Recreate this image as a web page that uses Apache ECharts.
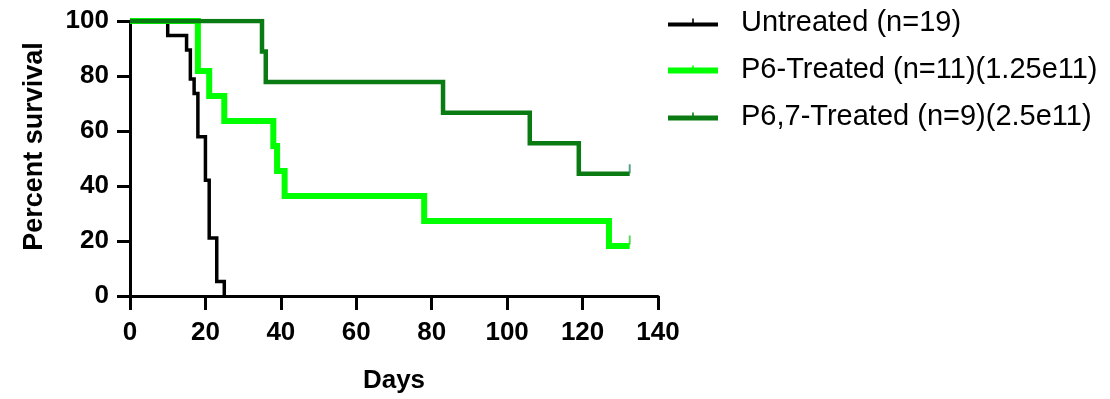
<!DOCTYPE html>
<html>
<head>
<meta charset="utf-8">
<script src="https://cdn.jsdelivr.net/npm/echarts@6/dist/echarts.min.js"></script>
<style>
html,body{margin:0;padding:0;background:#fff;}
#chart{width:1110px;height:399px;}
</style>
</head>
<body>
<div id="chart"></div>
<script>
// Kaplan-Meier steps: [day, percent survival]
const seriesNames = ['Untreated (n=19)', 'P6-Treated (n=11)(1.25e11)', 'P6,7-Treated (n=9)(2.5e11)'];
const untreated = [[0,100],[10,94.74],[15,89.47],[16,78.95],[17,73.68],[18,57.89],[20,42.11],[21,21.05],[23,5.26],[25,0]];
const p6 = [[0,100],[18,81.82],[21,72.73],[25,63.64],[38,54.55],[39,45.45],[41,36.36],[78,27.27],[127,18.18],[132.5,18.18]];
const p67 = [[0,100],[35,88.89],[36,77.78],[83,66.67],[106,55.56],[119,44.44],[132.5,44.44]];
// censored observations (tick marks)
const p6Censor = [[132.5,18.18]];
const p67Censor = [[132.5,44.44]];
const xTicks = [0,20,40,60,80,100,120,140];
const yTicks = [0,20,40,60,80,100];

const colors = ['#000000', '#00ff00', '#0a7a12'];
const widths = [3.5, 6, 4.5];
const F = '"Liberation Sans", Arial, sans-serif';

function icon(h){
  const y0 = 12 - h;
  return 'path://M0,' + y0 + ' L50,' + y0 + ' L50,12 L0,12 Z M24.2,4 L25.8,4 L25.8,' + y0 + ' L24.2,' + y0 + ' Z';
}

const chart = echarts.init(document.getElementById('chart'), null, {renderer:'canvas'});
chart.setOption({
  animation: false,
  backgroundColor: '#fff',
  grid: {left: 130, right: 452, top: 21, bottom: 102, containLabel: false},
  legend: {
    left: 663, top: 3, orient: 'vertical', itemGap: 18,
    itemWidth: 50, itemHeight: 12,
    textStyle: {fontFamily: F, fontSize: 29, lineHeight: 29, color: '#000', padding: [0,0,0,18]},
    data: seriesNames.map((n,i)=>({name:n, icon: icon(Math.round(widths[i])), itemStyle:{color:colors[i]}}))
  },
  xAxis: {
    type: 'value', min: 0, max: 140, interval: 20,
    name: 'Days', nameLocation: 'middle', nameGap: 72,
    nameTextStyle: {fontFamily: F, fontSize: 26, fontWeight: 'bold', color: '#000'},
    axisLine: {show: true, lineStyle: {color: '#000', width: 3}},
    axisTick: {show: true, inside: false, length: 14, lineStyle: {color: '#000', width: 3}},
    axisLabel: {fontFamily: F, fontSize: 26, fontWeight: 'bold', color: '#000', margin: 24,
      formatter: v => xTicks.includes(v) ? String(v) : ''},
    splitLine: {show: false}
  },
  yAxis: {
    type: 'value', min: 0, max: 100, interval: 20,
    name: 'Percent survival', nameLocation: 'middle', nameGap: 82,
    nameTextStyle: {fontFamily: F, fontSize: 27, fontWeight: 'bold', color: '#000', padding: [0,0,0,24]},
    axisLine: {show: true, lineStyle: {color: '#000', width: 3}},
    axisTick: {show: true, inside: false, length: 13, lineStyle: {color: '#000', width: 3}},
    axisLabel: {fontFamily: F, fontSize: 26, fontWeight: 'bold', color: '#000', margin: 21,
      formatter: v => yTicks.includes(v) ? String(v) : ''},
    splitLine: {show: false}
  },
  series: [
    {name: seriesNames[0], type: 'line', step: 'end', data: untreated, showSymbol: false, symbol: 'none',
      lineStyle: {color: colors[0], width: widths[0], join: 'miter'}, itemStyle:{color:colors[0]}, z: 2},
    {name: seriesNames[1], type: 'line', step: 'end', data: p6, showSymbol: false, symbol: 'none',
      lineStyle: {color: colors[1], width: widths[1], join: 'miter'}, itemStyle:{color:colors[1]}, z: 3},
    {name: seriesNames[2], type: 'line', step: 'end', data: p67, showSymbol: false, symbol: 'none',
      lineStyle: {color: colors[2], width: widths[2], join: 'miter'}, itemStyle:{color:colors[2]}, z: 4},
    {type: 'scatter', data: p6Censor, symbol: 'rect', symbolSize: [2, 9], symbolOffset: [0, -6],
      itemStyle: {color: '#33cc33'}, z: 5, silent: true},
    {type: 'scatter', data: p67Censor, symbol: 'rect', symbolSize: [2, 9], symbolOffset: [0, -5],
      itemStyle: {color: '#2a8a6a'}, z: 5, silent: true}
  ]
});
</script>
</body>
</html>
